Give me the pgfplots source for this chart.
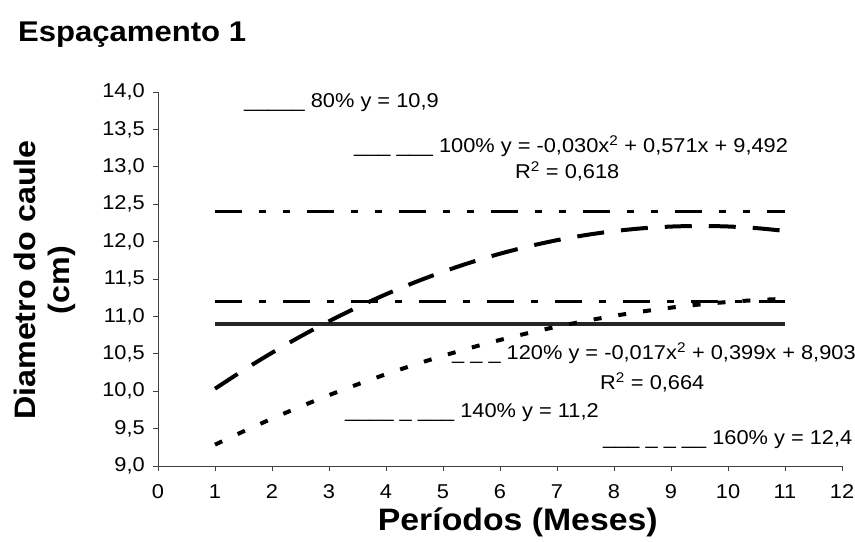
\documentclass[border=0pt]{standalone}
\usepackage{fontspec}
\setmainfont[FakeStretch=1.09]{Liberation Sans}
\usepackage{pgfplots}
\pgfplotsset{compat=1.18}
\begin{document}
\begin{tikzpicture}
\path[use as bounding box] (0,0) rectangle (855bp,542bp);
\begin{axis}[
  at={(158bp,76bp)}, anchor=south west,
  scale only axis, width=684bp, height=374bp,
  xmin=0, xmax=12, ymin=9, ymax=14,
  xtick={0,1,...,12}, ytick={9,9.5,...,14},
  axis x line*=bottom, axis y line*=left,
  axis line style={black!75, line width=0.9bp},
  tick style={black!75, line width=0.9bp},
  tick align=outside, major tick length=5bp,
  /pgf/number format/assume math mode=true,
  yticklabel style={/pgf/number format/fixed, /pgf/number format/fixed zerofill, /pgf/number format/precision=1, /pgf/number format/use comma, xshift=-8bp},
  ticklabel style={font=\fontsize{20bp}{24bp}\selectfont, inner sep=0pt},
  xticklabel style={text height=14.5bp, text depth=0bp, yshift=-13bp},
  xlabel={\textbf{Períodos (Meses)}},
  xlabel style={font=\fontsize{31bp}{36bp}\selectfont, at={(rel axis cs:0.526,0)}, anchor=base, yshift=-64bp, inner sep=0pt},
  clip=false,
]
% 80%
\addplot[black!85, line width=3.7bp] coordinates {(1,10.9) (11,10.9)};
% 100%
\addplot[black, line width=4bp, smooth, dash pattern=on 27bp off 17bp] coordinates {
(1,10.033) (1.5,10.281) (2,10.514) (2.5,10.732) (3,10.935) (3.5,11.123) (4,11.296) (4.5,11.454) (5,11.597) (5.5,11.725) (6,11.838) (6.5,11.936) (7,12.019) (7.5,12.087) (8,12.140) (8.5,12.178) (9,12.201) (9.5,12.209) (10,12.202) (10.5,12.180) (11,12.143)};
% 120%
\addplot[black, line width=4bp, smooth, dash pattern=on 8bp off 17bp] coordinates {
(1,9.285) (1.5,9.463) (2,9.633) (2.5,9.794) (3,9.947) (3.5,10.091) (4,10.227) (4.5,10.354) (5,10.473) (5.5,10.583) (6,10.685) (6.5,10.778) (7,10.863) (7.5,10.939) (8,11.007) (8.5,11.066) (9,11.117) (9.5,11.159) (10,11.193) (10.5,11.218) (11,11.235)};
% 140%
\addplot[black, line width=3.3bp, dash pattern=on 27bp off 17bp on 7bp off 17bp] coordinates {(1,11.2) (11,11.2)};
% 160%
\addplot[black, line width=3.3bp, dash pattern=on 27bp off 17bp on 7bp off 17bp on 7bp off 17bp] coordinates {(1,12.4) (11,12.4)};
\end{axis}
\node[rotate=90, align=center, inner sep=0pt, anchor=center, font=\fontsize{29.6bp}{34bp}\selectfont\bfseries] at (45bp,262bp) {Diametro do caule\\(cm)};
\begin{scope}[every node/.style={anchor=base west, inner sep=0pt, font=\fontsize{20bp}{24bp}\selectfont}]
\node at (244bp,434bp) {\_\_\_\_\_ 80\% y = 10,9};
\node at (354bp,389bp) {\_\_\_ \_\_\_ 100\% y = -0,030x\textsuperscript{2} + 0,571x + 9,492};
\node at (515bp,363bp) {R\textsuperscript{2} = 0,618};
\node at (452bp,182bp) {\_ \_ \_ 120\% y = -0,017x\textsuperscript{2} + 0,399x + 8,903};
\node at (600bp,152bp) {R\textsuperscript{2} = 0,664};
\node at (345bp,124bp) {\_\_\_\_ \_ \_\_\_ 140\% y = 11,2};
\node at (603bp,97bp) {\_\_\_ \_ \_ \_\_ 160\% y = 12,4};
\node[font=\fontsize{28.5bp}{34bp}\selectfont\bfseries] at (18bp,500bp) {Espaçamento 1};
\end{scope}
\end{tikzpicture}
\end{document}
